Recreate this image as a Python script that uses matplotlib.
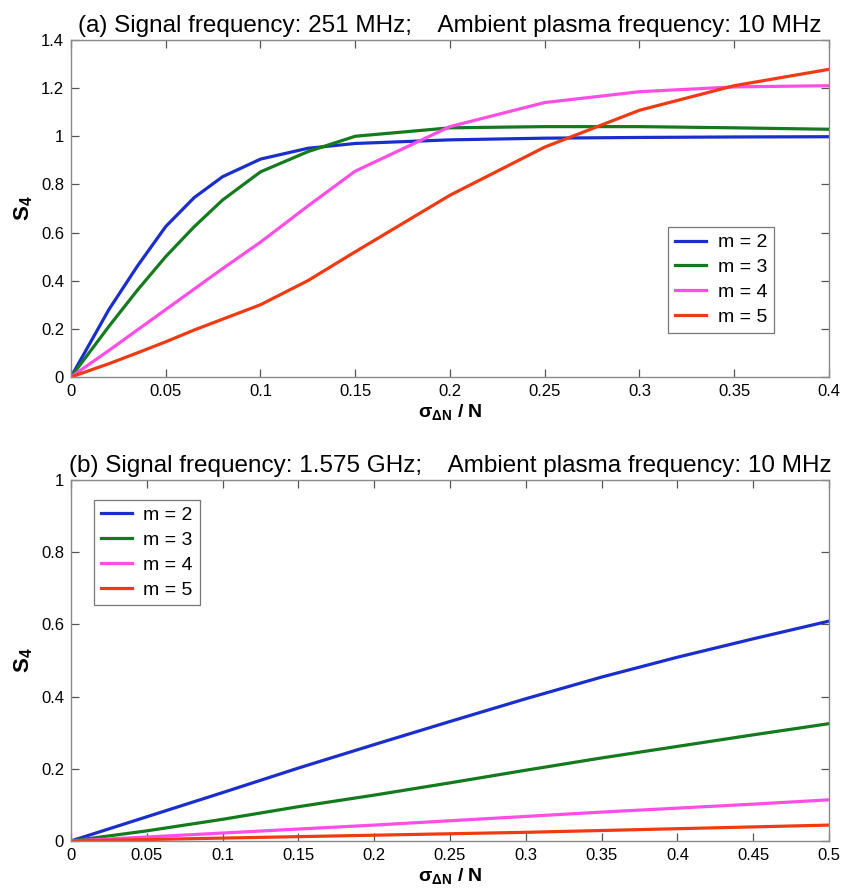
import numpy as np
import matplotlib
matplotlib.use('Agg')
import matplotlib.pyplot as plt
from matplotlib.ticker import FuncFormatter

plt.rcParams['font.family'] = ['Liberation Sans', 'DejaVu Sans']
plt.rcParams['mathtext.fontset'] = 'custom'
plt.rcParams['mathtext.rm'] = 'Liberation Sans'
plt.rcParams['mathtext.it'] = 'Liberation Sans:italic'
plt.rcParams['mathtext.bf'] = 'Liberation Sans:bold'

# panel (a): 251 MHz
xa = [0, 0.02, 0.035, 0.05, 0.065, 0.08, 0.1, 0.125, 0.15, 0.2, 0.25, 0.3, 0.35, 0.4]
a_m2 = [0, 0.28, 0.46, 0.625, 0.745, 0.832, 0.905, 0.95, 0.97, 0.985, 0.992, 0.995, 0.997, 0.998]
a_m3 = [0, 0.21, 0.36, 0.50, 0.624, 0.735, 0.852, 0.936, 1.0, 1.035, 1.04, 1.04, 1.035, 1.029]
a_m4 = [0, 0.11, 0.195, 0.28, 0.365, 0.45, 0.56, 0.71, 0.855, 1.04, 1.14, 1.185, 1.205, 1.21]
a_m5 = [0, 0.055, 0.10, 0.146, 0.195, 0.24, 0.30, 0.40, 0.52, 0.755, 0.955, 1.108, 1.21, 1.278]

# panel (b): 1.575 GHz
xb = [0, 0.05, 0.1, 0.15, 0.2, 0.25, 0.3, 0.35, 0.4, 0.45, 0.5]
b_m2 = [0, 0.067, 0.134, 0.202, 0.267, 0.331, 0.394, 0.454, 0.509, 0.56, 0.609]
b_m3 = [0, 0.028, 0.06, 0.095, 0.127, 0.161, 0.196, 0.23, 0.262, 0.294, 0.325]
b_m4 = [0, 0.011, 0.022, 0.033, 0.044, 0.056, 0.068, 0.08, 0.091, 0.102, 0.114]
b_m5 = [0, 0.004, 0.008, 0.012, 0.016, 0.02, 0.024, 0.029, 0.034, 0.039, 0.044]

labels = ['m = 2', 'm = 3', 'm = 4', 'm = 5']
colors = ['#1a2ecc', '#147a1e', '#ff4ee6', '#f03a12']

titles = ['(a) Signal frequency: 251 MHz;    Ambient plasma frequency: 10 MHz',
          '(b) Signal frequency: 1.575 GHz;    Ambient plasma frequency: 10 MHz']

fmt = FuncFormatter(lambda v, p: '%g' % round(v, 6))

fig = plt.figure(figsize=(8.46, 8.92), dpi=100)
ax1 = fig.add_axes([0.0839, 0.5774, 0.896, 0.3778])
ax2 = fig.add_axes([0.0839, 0.0572, 0.896, 0.4047])


def style(ax, title):
    for s in ax.spines.values():
        s.set_color('#8a8a8a')
        s.set_linewidth(1.0)
    ax.tick_params(direction='in', top=True, right=True, length=6, width=0.9,
                   color='#555555', labelsize=12, pad=5)
    ax.xaxis.set_major_formatter(fmt)
    ax.yaxis.set_major_formatter(fmt)
    ax.set_title(title, fontsize=17.5, pad=6)
    ax.set_xlabel(r'$\mathbf{\sigma_{\Delta N}}$ / N', fontsize=14, fontweight='bold', labelpad=2)
    ax.set_ylabel(r'$\mathbf{S_4}$', fontsize=16, labelpad=4)


def add_legend(ax, anchor):
    leg = ax.legend(loc='upper left', bbox_to_anchor=anchor, fontsize=14,
                    fancybox=False, edgecolor='#555555', handlelength=1.6,
                    borderpad=0.35, labelspacing=0.37, handletextpad=0.6,
                    borderaxespad=0)
    leg.get_frame().set_linewidth(0.9)


for y, c, l in zip([a_m2, a_m3, a_m4, a_m5], colors, labels):
    ax1.plot(xa, y, color=c, lw=2.3, label=l)
ax1.set_xlim(0, 0.4)
ax1.set_ylim(0, 1.4)
ax1.set_xticks(np.arange(0, 0.41, 0.05))
ax1.set_yticks(np.arange(0, 1.41, 0.2))
style(ax1, titles[0])
add_legend(ax1, (0.788, 0.445))

for y, c, l in zip([b_m2, b_m3, b_m4, b_m5], colors, labels):
    ax2.plot(xb, y, color=c, lw=2.3, label=l)
ax2.set_xlim(0, 0.5)
ax2.set_ylim(0, 1)
ax2.set_xticks(np.arange(0, 0.51, 0.05))
ax2.set_yticks(np.arange(0, 1.01, 0.2))
style(ax2, titles[1])
add_legend(ax2, (0.03, 0.945))

fig.savefig('out.png', dpi=100)
